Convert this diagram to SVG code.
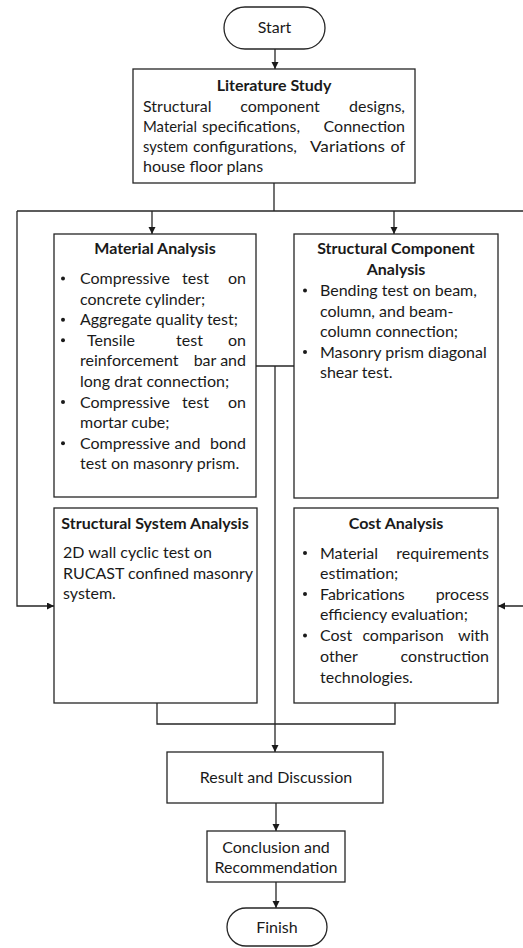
<svg xmlns="http://www.w3.org/2000/svg" width="523" height="948" viewBox="0 0 523 948">
  <style>
    .box { fill: #ffffff; stroke: #262626; stroke-width: 1.3; }
    .t { font-family: Lato, "Liberation Sans", sans-serif; font-size: 16px; fill: #1a1a1a; }
    .b { font-weight: bold; }
    .c { text-anchor: middle; }
    .e { text-anchor: end; }
    .wire { fill: none; stroke: #262626; stroke-width: 1.3; }
    .dot { fill: #1a1a1a; }
  </style>
  <defs>
    <marker id="arrow" markerUnits="userSpaceOnUse" markerWidth="8" markerHeight="8" refX="7" refY="3.5" orient="auto">
      <path d="M0,0 L7,3.5 L0,7 z" fill="#1a1a1a"/>
    </marker>
  </defs>

  <rect width="523" height="948" fill="#ffffff"/>

  <!-- connectors -->
  <g id="connectors">
    <line class="wire" x1="275" y1="49" x2="275" y2="69" marker-end="url(#arrow)"/>
    <path class="wire" d="M274,183 V211"/>
    <path class="wire" d="M17,211 H526"/>
    <line class="wire" x1="152" y1="211" x2="152" y2="234" marker-end="url(#arrow)"/>
    <line class="wire" x1="394" y1="211" x2="394" y2="234" marker-end="url(#arrow)"/>
    <path class="wire" d="M17,211 V606 H54" marker-end="url(#arrow)"/>
    <path class="wire" d="M526,211 V606 H498" marker-end="url(#arrow)"/>
    <path class="wire" d="M256,366 H294"/>
    <line class="wire" x1="275" y1="366" x2="275" y2="752" marker-end="url(#arrow)"/>
    <path class="wire" d="M157,703 V724 H395 V703"/>
    <line class="wire" x1="276" y1="803" x2="276" y2="831" marker-end="url(#arrow)"/>
    <line class="wire" x1="276" y1="882" x2="276" y2="908" marker-end="url(#arrow)"/>
  </g>

  <g id="start">
    <rect class="box" x="224" y="7" width="101" height="42" rx="21"/>
    <text class="t c" x="274.5" y="33">Start</text>
  </g>

  <g id="literature-study">
    <rect class="box" x="133" y="69" width="282" height="114"/>
    <text class="t b c" x="274" y="91">Literature Study</text>
    <text class="t" x="143" y="112">Structural</text>
    <text class="t c" x="280" y="112">component</text>
    <text class="t e" x="405" y="112">designs,</text>
    <text class="t" x="143" y="132" textLength="54" lengthAdjust="spacingAndGlyphs">Material</text>
    <text class="t" x="202" y="132" textLength="98" lengthAdjust="spacingAndGlyphs">specifications,</text>
    <text class="t e" x="405" y="132">Connection</text>
    <text class="t" x="143" y="152" textLength="45" lengthAdjust="spacingAndGlyphs">system</text>
    <text class="t" x="193" y="152" textLength="104" lengthAdjust="spacingAndGlyphs">configurations,</text>
    <text class="t" x="310" y="152" textLength="75" lengthAdjust="spacingAndGlyphs">Variations</text>
    <text class="t e" x="405" y="152">of</text>
    <text class="t" x="143" y="172">house floor plans</text>
  </g>

  <g id="material-analysis">
    <rect class="box" x="54" y="234" width="202" height="263"/>
    <text class="t b c" x="155" y="254">Material Analysis</text>
    <circle class="dot" cx="63" cy="278.5" r="2"/>
    <text class="t" x="80" y="284">Compressive</text>
    <text class="t c" x="195.5" y="284">test</text>
    <text class="t e" x="246" y="284">on</text>
    <text class="t" x="80" y="304.6">concrete cylinder;</text>
    <circle class="dot" cx="63" cy="319.7" r="2"/>
    <text class="t" x="80" y="325.2">Aggregate quality test;</text>
    <circle class="dot" cx="63" cy="340.3" r="2"/>
    <text class="t" x="87" y="345.8">Tensile</text>
    <text class="t c" x="189.5" y="345.8">test</text>
    <text class="t e" x="246" y="345.8">on</text>
    <text class="t" x="80" y="366.4">reinforcement</text>
    <text class="t c" x="205" y="366.4">bar</text>
    <text class="t e" x="246" y="366.4">and</text>
    <text class="t" x="80" y="387">long drat connection;</text>
    <circle class="dot" cx="63" cy="402.1" r="2"/>
    <text class="t" x="80" y="407.6">Compressive</text>
    <text class="t c" x="195.5" y="407.6">test</text>
    <text class="t e" x="246" y="407.6">on</text>
    <text class="t" x="80" y="428.2">mortar cube;</text>
    <circle class="dot" cx="63" cy="443.3" r="2"/>
    <text class="t" x="80" y="448.8">Compressive</text>
    <text class="t c" x="187.5" y="448.8">and</text>
    <text class="t e" x="246" y="448.8">bond</text>
    <text class="t" x="80" y="469.4">test on masonry prism.</text>
  </g>

  <g id="structural-component-analysis">
    <rect class="box" x="294" y="234" width="204" height="264"/>
    <text class="t b c" x="396" y="254">Structural Component</text>
    <text class="t b c" x="396" y="275">Analysis</text>
    <circle class="dot" cx="305" cy="290.5" r="2"/>
    <text class="t" x="320" y="296">Bending test on beam,</text>
    <text class="t" x="320" y="316.5">column, and beam-</text>
    <text class="t" x="320" y="337">column connection;</text>
    <circle class="dot" cx="305" cy="352" r="2"/>
    <text class="t" x="320" y="357.5">Masonry prism diagonal</text>
    <text class="t" x="320" y="378">shear test.</text>
  </g>

  <g id="structural-system-analysis">
    <rect class="box" x="54" y="508" width="203" height="195"/>
    <text class="t b c" x="155" y="529">Structural System Analysis</text>
    <text class="t" x="63" y="558">2D wall cyclic test on</text>
    <text class="t" x="63" y="578.5">RUCAST confined masonry</text>
    <text class="t" x="63" y="599">system.</text>
  </g>

  <g id="cost-analysis">
    <rect class="box" x="294" y="508" width="204" height="195"/>
    <text class="t b c" x="396" y="529">Cost Analysis</text>
    <circle class="dot" cx="305" cy="553" r="2"/>
    <text class="t" x="320" y="558.5">Material</text>
    <text class="t e" x="489" y="558.5">requirements</text>
    <text class="t" x="320" y="578.5">estimation;</text>
    <circle class="dot" cx="305" cy="594" r="2"/>
    <text class="t" x="320" y="599.5">Fabrications</text>
    <text class="t e" x="489" y="599.5">process</text>
    <text class="t" x="320" y="620">efficiency evaluation;</text>
    <circle class="dot" cx="305" cy="635.5" r="2"/>
    <text class="t" x="320" y="641">Cost</text>
    <text class="t c" x="403" y="641">comparison</text>
    <text class="t e" x="489" y="641">with</text>
    <text class="t" x="320" y="662">other</text>
    <text class="t e" x="489" y="662">construction</text>
    <text class="t" x="320" y="682.5">technologies.</text>
  </g>

  <g id="result-and-discussion">
    <rect class="box" x="167" y="752" width="216" height="51"/>
    <text class="t c" x="276" y="783">Result and Discussion</text>
  </g>

  <g id="conclusion-and-recommendation">
    <rect class="box" x="207" y="831" width="138" height="51"/>
    <text class="t c" x="276" y="853">Conclusion and</text>
    <text class="t c" x="276" y="873">Recommendation</text>
  </g>

  <g id="finish">
    <rect class="box" x="227" y="908" width="100" height="38" rx="19"/>
    <text class="t c" x="277" y="933">Finish</text>
  </g>
</svg>
